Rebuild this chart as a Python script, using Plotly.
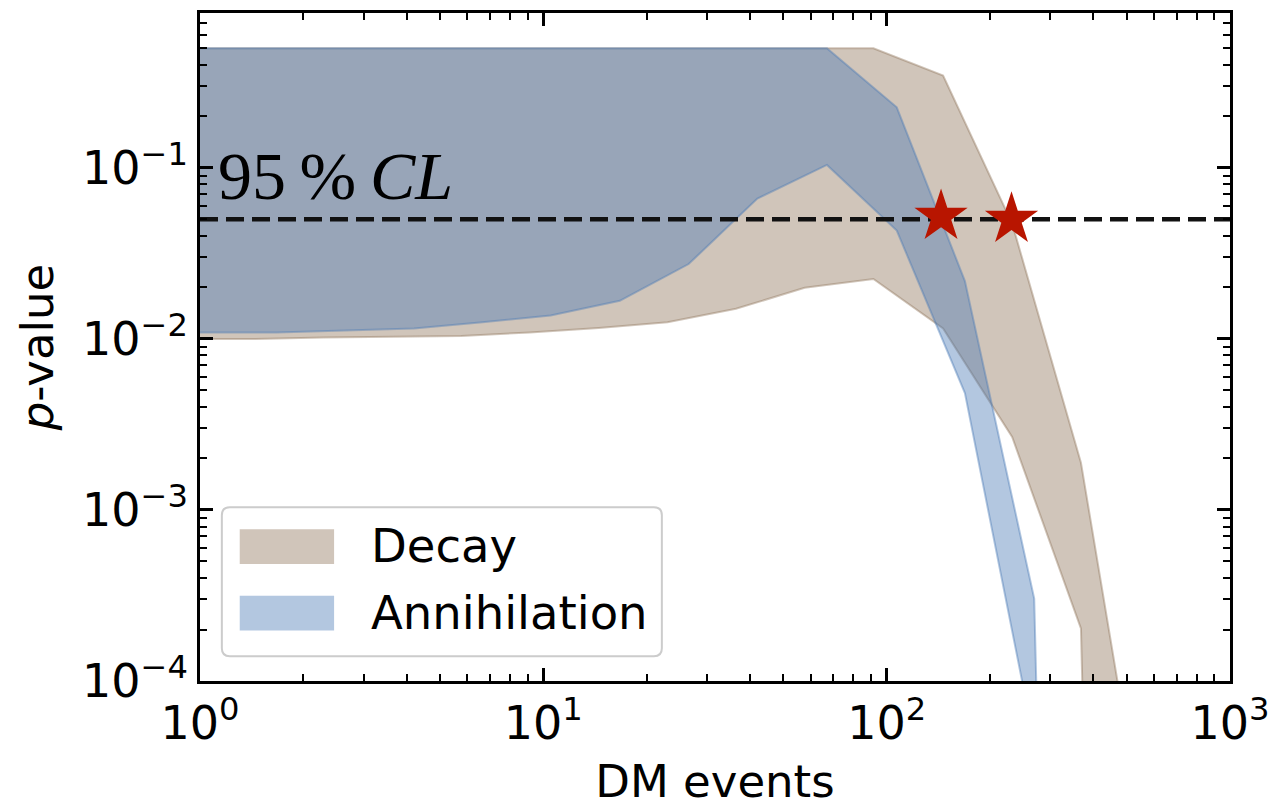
import plotly.graph_objects as go

# ---------------- data ----------------
decay_x = [0.91, 1.45, 2.29, 3.63, 5.76, 9.13, 14.5, 23.0, 36.4, 57.7, 91.5, 146, 232, 368, 584]
decay_lower = [0.0100, 0.0100, 0.0102, 0.0103, 0.0104, 0.0109, 0.0116, 0.0125, 0.0150, 0.0199,
               0.0224, 0.0115, 0.00267, 0.000203, 0.0]
decay_upper = [0.50, 0.50, 0.50, 0.50, 0.50, 0.50, 0.50, 0.50, 0.50, 0.50,
               0.50, 0.347, 0.0473, 0.00189, 0.0000074]

annih_x = [0.66, 1.05, 1.67, 2.65, 4.2, 6.65, 10.5, 16.7, 26.5, 42.0, 67.0, 107, 169, 269, 427]
annih_lower = [0.0109, 0.0109, 0.0109, 0.0112, 0.0115, 0.0125, 0.0137, 0.0167, 0.0274, 0.0661,
               0.104, 0.043, 0.00482, 0.000044, 0.0]
annih_upper = [0.50, 0.50, 0.50, 0.50, 0.50, 0.50, 0.50, 0.50, 0.50, 0.50,
               0.50, 0.226, 0.0218, 0.000303, 0.0]

star_x = [144, 231]
star_p = [0.052, 0.050]
cl_level = 0.05
cl_x = [1, 1000]

x_tickvals = [1, 10, 100, 1000]
x_ticktext = ["10<sup>0</sup>", "10<sup>1</sup>", "10<sup>2</sup>", "10<sup>3</sup>"]
y_tickvals = [1e-4, 1e-3, 1e-2, 1e-1]
y_ticktext = ["10<sup>\u22124</sup>", "10<sup>\u22123</sup>", "10<sup>\u22122</sup>", "10<sup>\u22121</sup>"]

labels = ["Decay", "Annihilation"]
FLOOR = 1e-20  # zero p-values drawn far below the visible range on the log axis

decay_fill = "rgba(143,117,91,0.42)"
annih_fill = "rgba(74,122,181,0.42)"
star_color = "#b81500"
FONT = "DejaVu Sans"


def band(x, lo, hi):
    lo = [v if v > 0 else FLOOR for v in lo]
    hi = [v if v > 0 else FLOOR for v in hi]
    return list(x) + list(x)[::-1], list(hi) + list(lo)[::-1]


fig = go.Figure()
bx, by = band(decay_x, decay_lower, decay_upper)
fig.add_trace(go.Scatter(x=bx, y=by, fill="toself", fillcolor=decay_fill, mode="lines",
                         line=dict(color=decay_fill, width=2), name=labels[0], showlegend=False,
                         hoverinfo="skip"))
bx, by = band(annih_x, annih_lower, annih_upper)
fig.add_trace(go.Scatter(x=bx, y=by, fill="toself", fillcolor=annih_fill, mode="lines",
                         line=dict(color=annih_fill, width=2), name=labels[1], showlegend=False,
                         hoverinfo="skip"))
fig.add_trace(go.Scatter(x=cl_x, y=[cl_level, cl_level], mode="lines",
                         line=dict(color="#111111", width=4.5, dash="18px,8px"),
                         showlegend=False, hoverinfo="skip"))
fig.add_trace(go.Scatter(x=star_x, y=star_p, mode="markers",
                         marker=dict(symbol="star", size=40, color=star_color, line=dict(width=0)),
                         showlegend=False))

# minor ticks
x_minor = [m * d for d in (1, 10, 100) for m in range(2, 10)]
y_minor = [m * d for d in (1e-4, 1e-3, 1e-2, 1e-1) for m in range(2, 10)]

W, H = 1280, 808
ML, MR, MT, MB = 200, 43, 10, 125
PW, PH = W - ML - MR, H - MT - MB


def px(xp):
    return (xp - ML) / PW


def py(yp):
    return (H - MB - yp) / PH


axis_common = dict(showline=True, linecolor="black", linewidth=2.5, mirror="allticks",
                   ticks="inside", ticklen=13, tickwidth=2.5, tickcolor="black",
                   showgrid=False, zeroline=False,
                   tickfont=dict(family=FONT, size=46, color="black"))

fig.update_xaxes(type="log", range=[0, 3], tickmode="array", tickvals=x_tickvals, ticktext=x_ticktext,
                 minor=dict(tickmode="array", tickvals=x_minor, ticks="inside", ticklen=7,
                            tickwidth=2, tickcolor="black", showgrid=False),
                 title=dict(text="DM events", font=dict(family=FONT, size=45, color="black"), standoff=17),
                 **axis_common)
fig.update_yaxes(type="log", range=[-4, -0.0945], tickmode="array", tickvals=y_tickvals, ticktext=y_ticktext,
                 minor=dict(tickmode="array", tickvals=y_minor, ticks="inside", ticklen=7,
                            tickwidth=2, tickcolor="black", showgrid=False),
                 title=dict(text="<i>p</i>-value", font=dict(family=FONT, size=45, color="black"), standoff=15),
                 **axis_common)

# legend (drawn as a framed box with swatches and real text)
x0, x1, y0, y1 = 222, 665, 508, 658
r = 8
rx, ry = r / PW, r / PH
X0, X1, Y0, Y1 = px(x0), px(x1), py(y1), py(y0)
path = (f"M{X0+rx},{Y0} L{X1-rx},{Y0} Q{X1},{Y0} {X1},{Y0+ry} L{X1},{Y1-ry} Q{X1},{Y1} {X1-rx},{Y1} "
        f"L{X0+rx},{Y1} Q{X0},{Y1} {X0},{Y1-ry} L{X0},{Y0+ry} Q{X0},{Y0} {X0+rx},{Y0} Z")
shapes = [dict(type="path", path=path, xref="paper", yref="paper",
               fillcolor="rgba(255,255,255,0.8)", line=dict(color="#cccccc", width=2), layer="above")]
annotations = []
for i, (lab, col) in enumerate(zip(labels, [decay_fill, annih_fill])):
    top = 530 + i * 67
    shapes.append(dict(type="rect", xref="paper", yref="paper", x0=px(240), x1=px(335),
                       y0=py(top + 35), y1=py(top), fillcolor=col, line=dict(width=0), layer="above"))
    annotations.append(dict(text=lab, xref="paper", yref="paper", x=px(370), y=py(top + 17),
                            xanchor="left", yanchor="middle", showarrow=False,
                            font=dict(family=FONT, size=46.5, color="black")))

annotations.append(dict(text="95\u2009%\u2009<i>CL</i>", xref="paper", yref="paper",
                        x=px(216), y=py(174), xanchor="left", yanchor="middle", showarrow=False,
                        font=dict(family="Liberation Serif", size=68, color="black")))

fig.update_layout(width=W, height=H, margin=dict(l=ML, r=MR, t=MT, b=MB),
                  paper_bgcolor="white", plot_bgcolor="white",
                  shapes=shapes, annotations=annotations, showlegend=False)

fig.write_html("out.html")
